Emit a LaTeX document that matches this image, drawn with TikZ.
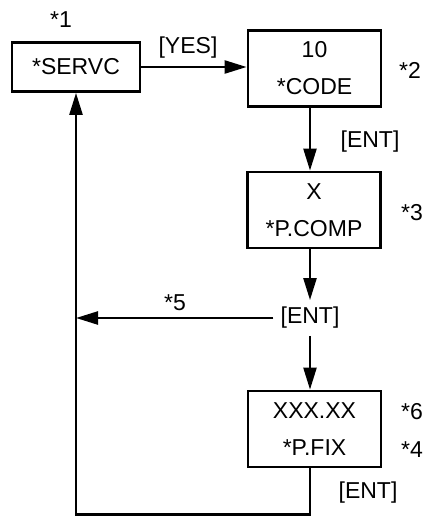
\documentclass[tikz,border=0pt]{standalone}
\usepackage{fontspec}
\setmainfont{Liberation Sans}
\usetikzlibrary{arrows.meta,positioning,calc}

\begin{document}
\begin{tikzpicture}[x=1pt,y=-1pt,font=\fontsize{23}{37}\selectfont,
  >={Triangle[length=22pt,width=13pt]},
  box/.style={draw,line width=2.8pt,minimum width=133pt,minimum height=76pt,align=center,inner sep=0pt},
  arr/.style={->,line width=2.4pt}]
\useasboundingbox (0,0) rectangle (425,516);
\node[box,minimum width=128pt,minimum height=49pt] (servc) at (76,67) {*SERVC};
\node[box] (code) at (314.5,68.5) {10\\*CODE};
\node[box] (pcomp) at (314,210) {X\\*P.COMP};
\node[box] (pfix) at (314.5,429) {XXX.XX\\*P.FIX};
\node[inner sep=7pt] (ent) at (310,318) {[ENT]};
% notes and key labels
\node (n1) at (61,20) {*1};
\node (n2) at (410,70) {*2};
\node (n3) at (412,213) {*3};
\node (n5) at (175,303) {*5};
\node (n6) at (412,412) {*6};
\node (n4) at (412,450) {*4};
\node (yes) at (188,48) {[YES]};
\node (entA) at (370,142) {[ENT]};
\node (entB) at (368,493) {[ENT]};
% flow
\draw[arr] (servc.east) -- (servc.east -| code.west);
\draw[arr] (code.south -| ent) -- (pcomp.north -| ent);
\draw[arr] (pcomp.south -| ent) -- (ent.north);
\draw[arr] (ent.south) -- (pfix.north -| ent);
\draw[arr] (ent.west) -- (ent.west -| servc.south);
\draw[arr] (pfix.south -| ent) -- ++(0,46) -| (servc.south);
\end{tikzpicture}
\end{document}
